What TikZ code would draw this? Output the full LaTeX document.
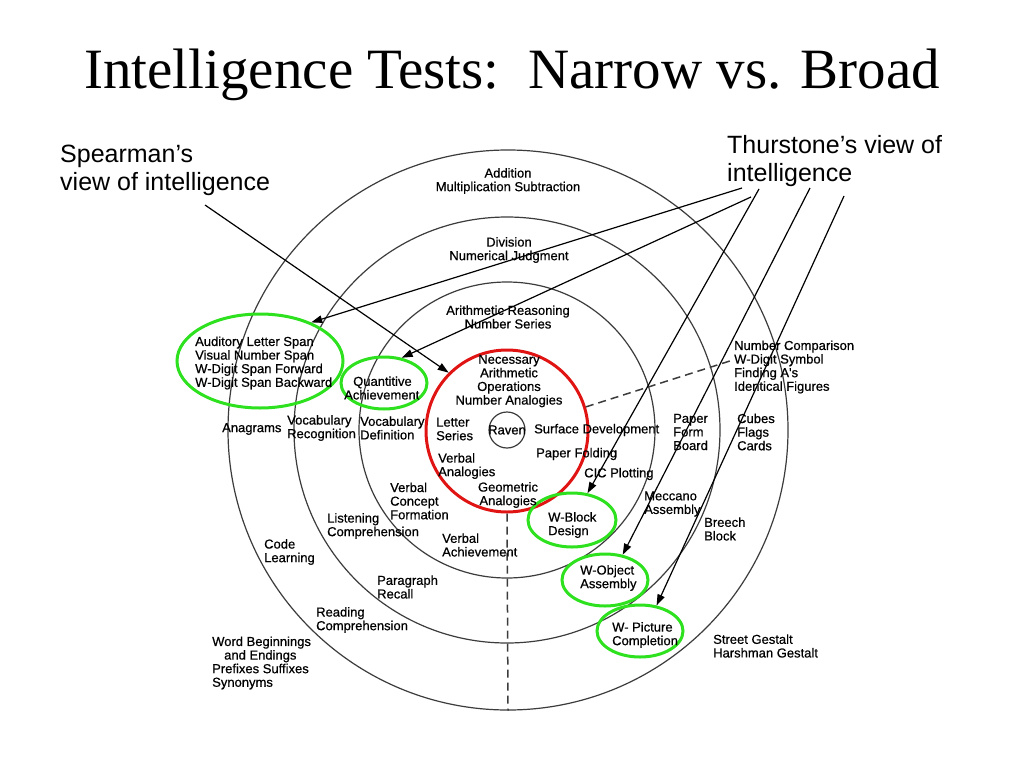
\documentclass[tikz,border=0pt]{standalone}
\usepackage{fontspec}
\setmainfont{Liberation Serif}
\newfontfamily\arial{Liberation Sans}
\newfontfamily\arialm[FakeBold=0.6]{Liberation Sans}
\usetikzlibrary{shapes.geometric,arrows.meta}
\definecolor{ringgray}{RGB}{60,60,60}
\definecolor{hlgreen}{RGB}{45,225,30}
\definecolor{hlred}{RGB}{225,20,20}
\begin{document}
\begin{tikzpicture}[x=1pt,y=-1pt,
  lbl/.style={font=\arialm\fontsize{13}{13.6}\selectfont, inner sep=0pt, align=left, anchor=west},
  clbl/.style={font=\arialm\fontsize{13}{13.6}\selectfont, inner sep=0pt, align=center, anchor=center},
  big/.style={font=\arial\fontsize{25}{28}\selectfont, inner sep=0pt, align=left, anchor=base west},
  ring/.style={circle, draw=ringgray, line width=1.2pt, inner sep=0pt},
  gring/.style={ellipse, draw=hlgreen, line width=3pt, inner sep=0pt},
  arr/.style={-{Triangle[length=11pt,width=7.5pt]}, line width=1.2pt, black},
  dsh/.style={line width=1.5pt, ringgray, dash pattern=on 8pt off 5pt}
]
\useasboundingbox (0,0) rectangle (1024,768);
\fill[white] (0,0) rectangle (1024,768);

% title
\node[font=\fontsize{57}{60}\selectfont, inner sep=0pt, anchor=base] (title) at (512,88) {Intelligence Tests:\ \ Narrow vs. Broad};

% rings
\node[ring, minimum size=560pt] (c4) at (508,430) {};
\node[ring, minimum size=426pt] (c3) at (507,430) {};
\node[ring, minimum size=296pt] (c2) at (507,430) {};
\node[circle, draw=hlred, line width=3pt, inner sep=0pt, minimum size=162pt] (g) at (507,431) {};
\node[ring, minimum size=36pt] (c1) at (507,430) {};

% dashed lines
\coordinate (dd) at (733,360);
\draw[dsh] (g.south) -- (c4.south);
\draw[dsh] (g.17) -- (dd);

% green ellipses
\node[gring, minimum width=166pt, minimum height=94pt] (e1) at (260,361) {};
\node[gring, minimum width=86pt, minimum height=52pt] (e2) at (384,383) {};
\node[gring, minimum width=88pt, minimum height=54pt] (e3) at (572,520) {};
\node[gring, minimum width=86pt, minimum height=52pt] (e4) at (605,580) {};
\node[gring, minimum width=86pt, minimum height=52pt] (e5) at (640,631) {};

% ring texts
\node[clbl] (add) at (508,181) {Addition\\Multiplication Subtraction};
\node[clbl] (div) at (509,250) {Division\\Numerical Judgment};
\node[clbl] (ari) at (508,317) {Arithmetic Reasoning\\Number Series};
\node[clbl] (nec) at (509,381) {Necessary\\Arithmetic\\Operations\\Number Analogies};
\node[lbl] (let) at (436,429) {Letter\\Series};
\node[clbl] (rav) at (507,430) {Raven};
\node[lbl] (sur) at (534,430) {Surface Development};
\node[lbl] (pfo) at (536,454) {Paper Folding};
\node[lbl] (van) at (438,466) {Verbal\\Analogies};
\node[lbl] (cic) at (584,474) {CIC Plotting};
\node[clbl] (geo) at (508,495) {Geometric\\Analogies};
\node[lbl] (vcf) at (390,501) {Verbal\\Concept\\Formation};
\node[lbl] (vre) at (287,428) {Vocabulary\\Recognition};
\node[lbl] (vde) at (360,428) {Vocabulary\\Definition};
\node[lbl] (ana) at (222,429) {Anagrams};
\node[lbl] (lis) at (327,526) {Listening\\Comprehension};
\node[lbl] (vac) at (442,545) {Verbal\\Achievement};
\node[lbl] (cod) at (264,552) {Code\\Learning};
\node[lbl] (par) at (377,587) {Paragraph\\Recall};
\node[lbl] (rea) at (316,620) {Reading\\Comprehension};
\node[lbl] (wor) at (212,663) {Word Beginnings\\\hspace*{12pt}and Endings\\Prefixes Suffixes\\Synonyms};
\node[lbl] (aud) at (195,363) {Auditory Letter Span\\Visual Number Span\\W-Digit Span Forward\\W-Digit Span Backward};
\node[lbl] (qua) at (344,388) {\hspace*{9pt}Quantitive\\Achievement};
\node[lbl] (nco) at (734,367) {Number Comparison\\W-Digit Symbol\\Finding A's\\Identical Figures};
\node[lbl] (pfb) at (673,432) {Paper\\Form\\Board};
\node[lbl] (cub) at (737,432) {Cubes\\Flags\\Cards};
\node[lbl] (mec) at (644,504) {Meccano\\Assembly};
\node[lbl] (bre) at (704,529) {Breech\\Block};
\node[lbl] (wbd) at (548,525) {W-Block\\Design};
\node[lbl] (woa) at (580,578) {W-Object\\Assembly};
\node[lbl] (wpc) at (612,635) {W- Picture\\Completion};
\node[lbl] (sgs) at (713,646) {Street Gestalt\\Harshman Gestalt};

% captions
\node[big] (spe) at (60,190) {Spearman’s\\view of intelligence};
\node[big] (thu) at (727,181) {Thurstone’s view of\\intelligence};

% arrows
\coordinate (s0) at (205,205);
\coordinate (t1) at (742,188);
\coordinate (t2) at (751,197);
\coordinate (t3) at (759,189);
\coordinate (t4) at (810,188);
\coordinate (t5) at (844,196);
\draw[arr] (s0) -- (g.135);
\draw[arr] (t1) -- (e1.37);
\draw[arr] (t2) -- (e2.55);
\draw[arr] (t3) -- (e3.60);
\draw[arr] (t4) -- (e4.55);
\draw[arr] (t5) -- (e5.57);
\end{tikzpicture}
\end{document}
